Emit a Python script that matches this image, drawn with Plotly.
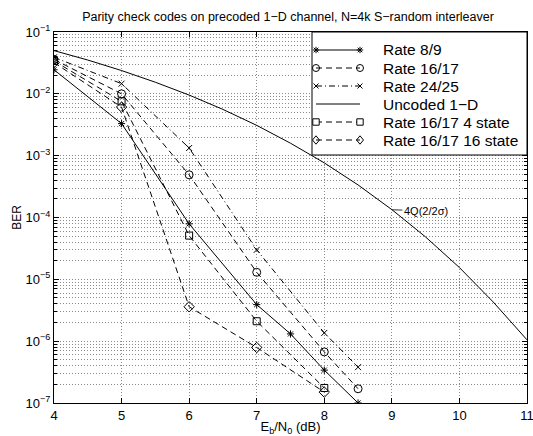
import plotly.graph_objects as go

# ---- data ----
ebn0 = [4, 5, 6, 7, 7.5, 8, 8.5]
ber_r89 = [0.0245, 3.3e-3, 7.9e-5, 3.9e-6, 1.31e-6, 3.4e-7, 1.0e-7]

ebn0_r1617 = [4, 5, 6, 7, 8, 8.5]
ber_r1617 = [0.036, 0.010, 4.9e-4, 1.3e-5, 6.7e-7, 1.7e-7]

ebn0_r2425 = [4, 5, 6, 7, 8, 8.5]
ber_r2425 = [0.039, 0.0146, 1.33e-3, 3.0e-5, 1.36e-6, 3.8e-7]

ebn0_unc = [4, 4.5, 5, 5.5, 6, 6.5, 7, 7.5, 8, 8.5, 9, 9.5, 10, 10.5, 11]
ber_unc = [0.050, 0.0352, 0.0238, 0.0154, 0.00955, 0.0056, 3.09e-3, 1.59e-3,
           7.65e-4, 3.36e-4, 1.34e-4, 4.84e-5, 1.55e-5, 4.3e-6, 1.05e-6]

ebn0_4st = [4, 5, 6, 7, 8]
ber_4st = [0.034, 7.55e-3, 5.1e-5, 2.1e-6, 1.75e-7]

ebn0_16st = [4, 5, 6, 7, 8]
ber_16st = [0.032, 6.1e-3, 3.6e-6, 7.9e-7, 1.5e-7]

series_names = ["Rate 8/9", "Rate 16/17", "Rate 24/25", "Uncoded 1\u2212D",
                "Rate 16/17 4 state", "Rate 16/17 16 state"]

x_ticks = [4, 5, 6, 7, 8, 9, 10, 11]
y_exponents = [-7, -6, -5, -4, -3, -2, -1]
y_ticks = [10.0 ** e for e in y_exponents]
y_ticktext = ["10<sup>\u2212%d</sup>" % (-e) for e in y_exponents]

# ---- styles ----
FONT = "Liberation Sans, Arial, Helvetica, sans-serif"
BLACK = "black"
DASH = "6px,4px"
DASHDOT = "6px,3px,1px,3px"
styles = [
    ("solid", "asterisk-open", 6),
    (DASH, "circle-open", 8),
    (DASHDOT, "x-thin-open", 6),
    ("solid", None, 0),
    (DASH, "square-open", 7),
    (DASH, "diamond-open", 8),
]
series = [(ebn0, ber_r89), (ebn0_r1617, ber_r1617), (ebn0_r2425, ber_r2425),
          (ebn0_unc, ber_unc), (ebn0_4st, ber_4st), (ebn0_16st, ber_16st)]

W, H = 533, 436
ML, MR, MT, MB = 54, 6, 32, 33
PW, PH = W - ML - MR, H - MT - MB

fig = go.Figure()
for (x, y), name, (dash, sym, ms) in zip(series, series_names, styles):
    fig.add_trace(go.Scatter(
        x=x, y=y, name=name, mode="lines+markers" if sym else "lines",
        showlegend=False,
        line=dict(color=BLACK, width=1, dash=dash),
        marker=dict(symbol=sym or "circle", size=ms, color=BLACK,
                    line=dict(color=BLACK, width=1)),
    ))

minor_vals = [k * 10.0 ** e for e in range(-7, -1) for k in range(2, 10)]

GRID = "#8a8a8a"
GDASH = "1px,2px"

fig.update_layout(
    width=W, height=H,
    margin=dict(l=ML, r=MR, t=MT, b=MB, autoexpand=False),
    paper_bgcolor="white", plot_bgcolor="white",
    font=dict(family=FONT, color=BLACK, size=13),
    title=dict(text="Parity check codes on precoded 1\u2212D channel, N=4k S\u2212random interleaver",
               x=288 / W, xanchor="center", y=1 - 17 / H, yanchor="middle",
               xref="container", yref="container", font=dict(size=12.5, family=FONT)),
    showlegend=False,
    xaxis=dict(range=[4, 11], tickvals=x_ticks, ticks="inside", ticklen=5,
               tickcolor=BLACK, showline=True, linecolor=BLACK, linewidth=1,
               mirror="allticks", showgrid=True, gridcolor=GRID,
               griddash=GDASH, gridwidth=1, zeroline=False, automargin=False,
               ticklabeloverflow="allow",
               tickfont=dict(size=13),
               title=dict(text="E<sub>b</sub>/N<sub>0</sub> (dB)", standoff=0,
                          font=dict(size=13))),
    yaxis=dict(type="log", range=[-7, -1], tickmode="array", tickvals=y_ticks,
               ticktext=y_ticktext, ticks="inside", ticklen=5, tickcolor=BLACK,
               showline=True, linecolor=BLACK, linewidth=1, mirror="allticks",
               showgrid=True, gridcolor=GRID, griddash=GDASH, gridwidth=1,
               zeroline=False, tickfont=dict(size=13), automargin=False,
               ticklabeloverflow="allow",
               minor=dict(tickmode="array", tickvals=minor_vals, ticks="inside",
                          ticklen=3, tickcolor=BLACK, showgrid=True,
                          gridcolor=GRID, griddash=GDASH, gridwidth=1),
               title=dict(text="BER", standoff=1, font=dict(size=12))),
)

fig.add_annotation(x=9.0, y=-3.875, xref="x", yref="y",
                   text="4Q(2/2\u03c3)", showarrow=True, arrowhead=0,
                   arrowwidth=0.8, arrowcolor=BLACK, ax=34, ay=1,
                   font=dict(size=11, family=FONT, color=BLACK))

# ---- legend box drawn in plot-area (paper) coordinates ----
def px(X):
    return (X - ML) / PW

def py(Y):
    return (H - MB - Y) / PH

LW = dict(color=BLACK, width=1)
shapes = [dict(type="rect", xref="paper", yref="paper", layer="above",
               x0=px(312), x1=px(527), y0=py(155), y1=py(32),
               fillcolor="white", line=LW)]

def marker_shapes(sym, cx, cy):
    out = []
    def seg(x0, y0, x1, y1):
        out.append(dict(type="line", xref="paper", yref="paper", layer="above",
                        x0=px(x0), y0=py(y0), x1=px(x1), y1=py(y1), line=LW))
    if sym == "asterisk-open":
        r = 3.2
        seg(cx - r, cy, cx + r, cy)
        seg(cx, cy - r, cx, cy + r)
        d = r * 0.72
        seg(cx - d, cy - d, cx + d, cy + d)
        seg(cx - d, cy + d, cx + d, cy - d)
    elif sym == "circle-open":
        r = 3.5
        out.append(dict(type="circle", xref="paper", yref="paper", layer="above",
                        x0=px(cx - r), x1=px(cx + r), y0=py(cy + r), y1=py(cy - r),
                        line=LW, fillcolor="rgba(0,0,0,0)"))
    elif sym == "x-thin-open":
        r = 2.5
        seg(cx - r, cy - r, cx + r, cy + r)
        seg(cx - r, cy + r, cx + r, cy - r)
    elif sym == "square-open":
        r = 3.2
        out.append(dict(type="rect", xref="paper", yref="paper", layer="above",
                        x0=px(cx - r), x1=px(cx + r), y0=py(cy + r), y1=py(cy - r),
                        line=LW, fillcolor="white"))
    elif sym == "diamond-open":
        rx, ry = 3.5, 4.2
        seg(cx - rx, cy, cx, cy - ry)
        seg(cx, cy - ry, cx + rx, cy)
        seg(cx + rx, cy, cx, cy + ry)
        seg(cx, cy + ry, cx - rx, cy)
    return out

row_y0, row_dy = 50, 18
for i, (name, (dash, sym, ms)) in enumerate(zip(series_names, styles)):
    yy = row_y0 + i * row_dy
    shapes.append(dict(type="line", xref="paper", yref="paper", layer="above",
                       x0=px(316), x1=px(360), y0=py(yy), y1=py(yy),
                       line=dict(color=BLACK, width=1, dash=dash)))
    if sym:
        shapes += marker_shapes(sym, 316, yy)
        shapes += marker_shapes(sym, 360, yy)
    fig.add_annotation(x=px(381), y=py(yy), xref="paper", yref="paper",
                       text=name, showarrow=False, xanchor="left",
                       yanchor="middle", font=dict(size=15.5, family=FONT,
                                                   color=BLACK))

fig.update_layout(shapes=shapes)

fig.write_html("out.html",
               config={"displayModeBar": False},
               post_script="document.body.style.margin='0px';"
                           "document.documentElement.style.overflow='hidden';")
